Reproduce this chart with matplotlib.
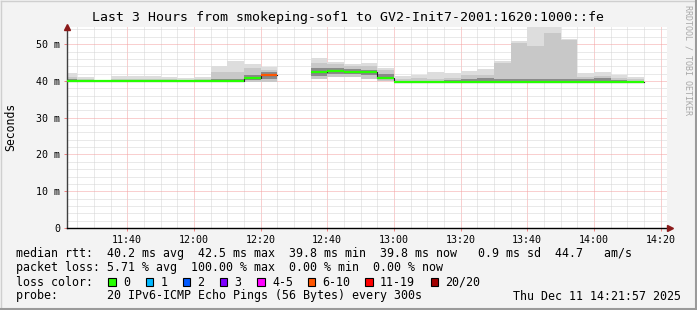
import matplotlib
matplotlib.use('Agg')
import matplotlib.pyplot as plt
from matplotlib.patches import Rectangle
from matplotlib.ticker import MultipleLocator, FixedLocator
import numpy as np
import pandas as pd

# 5 minute slots from 11:20 to 14:15 (values in ms)
slots = pd.date_range('2025-12-11 11:20', periods=35, freq='5min')
nan = np.nan
rtt_median = [39.9, 39.9, 39.9, 39.9, 39.9, 39.9, 39.9, 39.9, 39.9, 39.9, 39.9, 40.9, 41.7, nan, nan,
              42.3, 42.6, 42.5, 42.3, 40.9, 39.8, 39.8, 39.8, 39.8, 39.8, 39.8, 39.8, 39.8, 39.8, 39.8,
              39.8, 39.8, 39.8, 39.8, 39.8]
rtt_max = [42.2, 41.1, 40.1, 41.4, 41.4, 41.4, 41.2, 40.7, 41.0, 44.0, 45.5, 44.5, 43.7, nan, nan,
           46.1, 45.2, 44.5, 45.0, 43.6, 41.4, 41.7, 42.4, 42.2, 42.7, 43.3, 45.4, 50.9, 54.6, 54.6,
           51.4, 42.1, 42.4, 41.6, 41.2]
rtt_p90 = [41.2, 40.5, 40.0, 40.4, 40.4, 40.4, 40.6, 40.3, 40.5, 42.3, 42.3, 43.5, 42.9, nan, nan,
           45.0, 44.5, 44.0, 44.0, 43.0, 40.6, 40.8, 40.6, 40.8, 41.6, 41.5, 44.9, 50.2, 49.4, 53.0,
           51.0, 41.0, 41.4, 40.7, 40.5]
rtt_p75 = [40.4, 40.1, 39.95, 40.1, 40.1, 40.1, 40.1, 40.0, 40.1, 40.4, 40.6, 41.6, 42.3, nan, nan,
           43.6, 43.5, 43.3, 43.0, 41.8, 40.1, 40.1, 40.1, 40.2, 40.6, 40.7, 40.5, 40.6, 40.5, 40.4,
           40.6, 40.5, 40.9, 40.3, 40.0]
rtt_p25 = [39.8, 39.8, 39.8, 39.8, 39.8, 39.8, 39.8, 39.8, 39.8, 39.8, 39.8, 40.2, 40.4, nan, nan,
           41.4, 41.9, 41.8, 41.5, 40.5, 39.7, 39.7, 39.7, 39.7, 39.7, 39.7, 39.7, 39.7, 39.7, 39.7,
           39.7, 39.7, 39.7, 39.7, 39.7]
rtt_min = [39.7, 39.7, 39.7, 39.7, 39.7, 39.7, 39.7, 39.7, 39.7, 39.7, 39.7, 39.8, 39.6, nan, nan,
           40.6, 41.1, 41.0, 40.6, 40.0, 39.6, 39.6, 39.6, 39.6, 39.6, 39.6, 39.6, 39.6, 39.6, 39.6,
           39.6, 39.6, 39.6, 39.6, 39.6]
lost = [0] * 12 + [7, 20, 20] + [0] * 20

loss_labels = ['0', '1', '2', '3', '4-5', '6-10', '11-19', '20/20']
loss_limits = [0, 1, 2, 3, 5, 10, 19, 20]
loss_colors = ['#26ff00', '#00b8ff', '#0059ff', '#7e00ff', '#ff00ff', '#ff5500', '#ff0000', '#a10000']

time_ticks = ['11:40', '12:00', '12:20', '12:40', '13:00', '13:20', '13:40', '14:00', '14:20']
title = 'Last 3 Hours from smokeping-sof1 to GV2-Init7-2001:1620:1000::fe'
legend_lines = [
    'median rtt:  40.2 ms avg  42.5 ms max  39.8 ms min  39.8 ms now   0.9 ms sd  44.7   am/s',
    'packet loss: 5.71 % avg  100.00 % max  0.00 % min  0.00 % now',
    'loss color:',
    'probe:       20 IPv6-ICMP Echo Pings (56 Bytes) every 300s',
]
stamp = 'Thu Dec 11 14:21:57 2025'

W, H = 697, 310
mono = 'DejaVu Sans Mono'
fig = plt.figure(figsize=(W / 100, H / 100), dpi=100, facecolor='#f3f3f3')

# pixel overlay for texts / frame
bg = fig.add_axes([0, 0, 1, 1], zorder=0)
bg.set_xlim(0, W)
bg.set_ylim(H, 0)
bg.axis('off')
bg.plot([0.5, W - 0.5], [0.5, 0.5], color='#cfcfcf', lw=1)
bg.plot([0.5, 0.5], [0.5, H - 0.5], color='#cfcfcf', lw=1)
bg.plot([W - 1, W - 1], [0, H], color='#9a9a9a', lw=1.5)
bg.plot([0, W], [H - 1, H - 1], color='#9a9a9a', lw=1.5)

x0, x1, y0, y1 = 67, 667, 228, 26.5
ax = fig.add_axes([x0 / W, 1 - y0 / H, (x1 - x0) / W, (y0 - y1) / H], zorder=1)
ax.set_facecolor('white')

base = pd.Timestamp('2025-12-11 11:00')
xs = ((slots - base).total_seconds() / 60).to_numpy()
med = np.array(rtt_median)
hi, p90, p75, p25, lo = map(np.array, (rtt_max, rtt_p90, rtt_p75, rtt_p25, rtt_min))
ok = ~np.isnan(med)

# smoke
ax.bar(xs[ok], (hi - lo)[ok], bottom=lo[ok], width=5, align='edge', color='#dddddd', lw=0, zorder=2)
ax.bar(xs[ok], (p90 - lo)[ok], bottom=lo[ok], width=5, align='edge', color='#c8c8c8', lw=0, zorder=2)
ax.bar(xs[ok], (p75 - p25)[ok], bottom=p25[ok], width=5, align='edge', color='#8a8a8a', lw=0, zorder=2)

# median: thin dark step + loss coloured segments
ax.step(np.append(xs, xs[-1] + 5), np.append(med, med[-1]), where='post', color='#202020', lw=0.8, zorder=3)
for x, m, n in zip(xs, med, lost):
    if np.isnan(m):
        continue
    c = loss_colors[next(i for i, lim in enumerate(loss_limits) if n <= lim)]
    ax.hlines(m, x, x + 5, colors=c, lw=1.6, zorder=4)

ax.set_xlim(21.95, 201.95)
ax.set_ylim(0, 54.8)
tick_pos = [40 + 20 * i for i in range(len(time_ticks))]
ax.xaxis.set_major_locator(FixedLocator(tick_pos))
ax.set_xticklabels(time_ticks)
ax.xaxis.set_minor_locator(MultipleLocator(5))
ax.yaxis.set_major_locator(MultipleLocator(10))
ax.yaxis.set_minor_locator(MultipleLocator(2))
ax.set_yticklabels(['0' if v == 0 else '%d m' % v for v in ax.get_yticks()])

ax.set_axisbelow(True)
ax.grid(which='minor', color='#d4d4d4', lw=0.72, ls=(0, (1, 1)))
ax.grid(which='major', color='#f4a0a0', lw=0.72, ls=(0, (1, 1)))
ax.tick_params(which='major', length=2, width=0.7, color='#f08080', labelsize=7.2, pad=3)
ax.tick_params(which='minor', length=0)
for lab in ax.get_xticklabels() + ax.get_yticklabels():
    lab.set_family(mono)
for s in ('top', 'right'):
    ax.spines[s].set_visible(False)
ax.spines['left'].set_color('#404040')
ax.spines['bottom'].set_color('#000000')
ax.spines['left'].set_linewidth(1)
ax.spines['bottom'].set_linewidth(1)
ax.plot([0], [1.0], marker='^', ms=5, color='#8b1a1a', transform=ax.transAxes, clip_on=False, zorder=5)
ax.plot([1.005], [0], marker='>', ms=5, color='#8b1a1a', transform=ax.transAxes, clip_on=False, zorder=5)

# texts
bg.text(W / 2, 18, title, family=mono, fontsize=9.55, ha='center', va='center')
bg.text(11, (y0 + y1) / 2, 'Seconds', family=mono, fontsize=8.3, rotation=90, ha='center', va='center')
bg.text(688, 5, 'RRDTOOL / TOBI OETIKER', family=mono, fontsize=6, color='#a8a8a8',
        rotation=270, ha='center', va='top')
for i, line in enumerate(legend_lines):
    bg.text(16, 254 + 14 * i, line, family=mono, fontsize=8.4, ha='left', va='center')
bg.text(681, 296, stamp, family=mono, fontsize=8.4, ha='right', va='center')

box_x = [108, 145.5, 182.5, 219.5, 257, 307.5, 365, 430.5]
for bx, lab, c in zip(box_x, loss_labels, loss_colors):
    bg.add_patch(Rectangle((bx, 278), 7.5, 8, facecolor=c, edgecolor='black', lw=0.8))
    bg.text(bx + 15, 282, lab, family=mono, fontsize=8.4, ha='left', va='center')

fig.savefig('out.png', dpi=100, facecolor=fig.get_facecolor())
